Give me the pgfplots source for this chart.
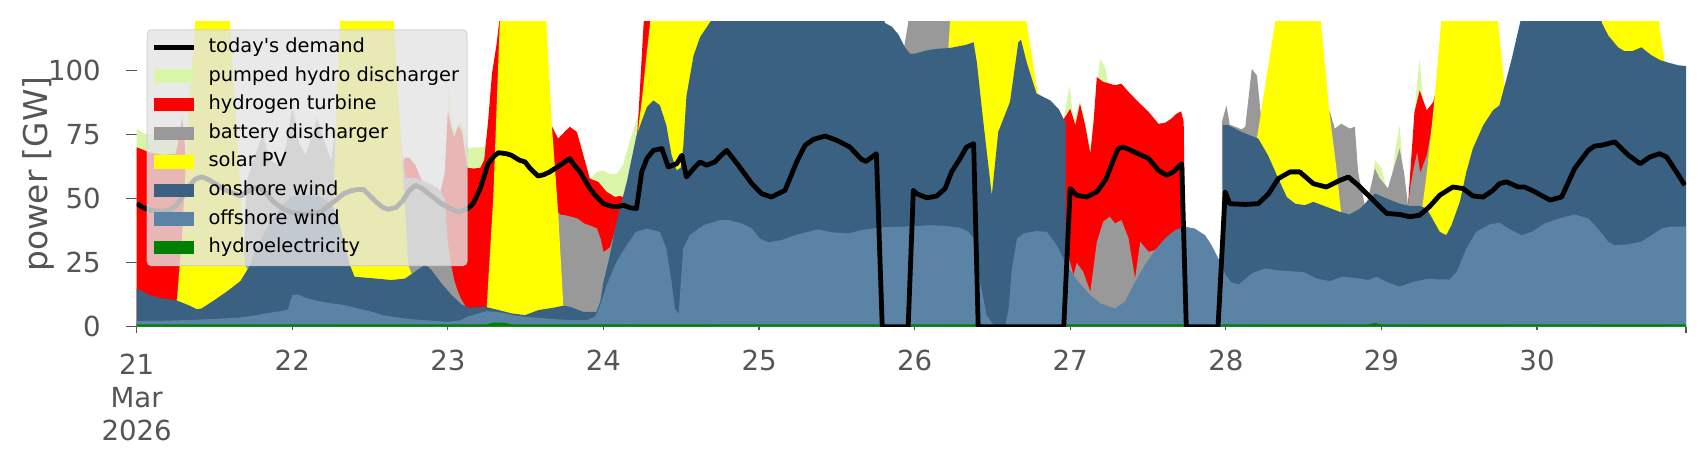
\documentclass[border=0pt]{standalone}
\usepackage{fontspec}
\setmainfont{DejaVu Sans}
\usepackage{pgfplots}
\pgfplotsset{compat=1.18}

\definecolor{phs}{HTML}{D9F5A8}
\definecolor{htwo}{HTML}{FF0000}
\definecolor{batt}{HTML}{999999}
\definecolor{solar}{HTML}{FFFF00}
\definecolor{onw}{HTML}{3B6182}
\definecolor{offw}{HTML}{5B83A5}
\definecolor{hydro}{HTML}{008000}
\definecolor{tickgray}{HTML}{555555}
\definecolor{legbg}{HTML}{E4E4E4}
\definecolor{legedge}{HTML}{CCCCCC}

% x = hours from 21 Mar 00:00, y = GW (top edge of each stacked band)
\pgfplotsset{
  patchleg/.style={legend image code/.code={\fill[##1, fill opacity=1, draw=none, sharp corners] (0pt,-3.35pt) rectangle (19.7pt,3.35pt);}},
  lineleg/.style={legend image code/.code={\path[draw=none, fill=none] (0pt,-3.35pt) rectangle (19.7pt,3.35pt); \fill[fill=black, fill opacity=1, draw=none, sharp corners] (0pt,-1.2pt) rectangle (19.7pt,1.2pt);}},
  band/.style={draw=none, fill=#1, forget plot},
}

\begin{document}
\begin{tikzpicture}
\path[use as bounding box] (-68.35pt,-66.65pt) rectangle (784.65pt,163.35pt);
\begin{axis}[
  at={(0pt,0pt)}, anchor=south west,
  scale only axis, width=774.7pt, height=152.5pt,
  xmin=0, xmax=239, ymin=0, ymax=119,
  axis line style={draw=none},
  tick pos=left, tick align=outside,
  major tick length=3.3pt,
  tick style={line width=0.8pt, color=tickgray},
  xtick={0,239},
  xticklabels={{21\\Mar\\2026},{}},
  extra x ticks={24,48,72,96,120,144,168,192,216},
  extra x tick labels={22,23,24,25,26,27,28,29,30},
  extra x tick style={major tick length=1.7pt, tick style={line width=0.6pt}},
  ytick=\empty,
  extra y ticks={0,25,50,75,100},
  extra y tick labels={0,25,50,75,100},
  extra y tick style={major tick length=5.3pt, tick style={line width=0.8pt}},
  tick label style={font=\fontsize{13.8}{16.6}\selectfont, text=tickgray},
  xticklabel style={align=center, inner sep=0pt, anchor=north, yshift=-10pt},
  yticklabel style={inner sep=0pt, anchor=east, xshift=-12.5pt},
  ylabel={power [GW]},
  every axis y label/.style={at={([xshift=-49.2pt]rel axis cs:0,0.5)}, rotate=90, anchor=center, font=\fontsize{16.4}{19}\selectfont, text=tickgray},
  legend cell align=left,
  legend style={
    at={(0.00645,0.9751)}, anchor=north west,
    font=\fontsize{9.7}{11.6}\selectfont,
    fill=legbg, fill opacity=0.8, draw=legedge, draw opacity=0.8, text opacity=1,
    rounded corners=2pt, line width=0.5pt,
    inner xsep=3.5pt, inner ysep=3.7pt,
    row sep=3.9pt, column sep=7pt,
    nodes={inner sep=0.5pt, text height=7.2pt, text depth=2.2pt, text=black},
  },
]
\addlegendimage{lineleg}
\addlegendentry{today\textquotesingle s demand}
\addlegendimage{patchleg, fill=phs}
\addlegendentry{pumped hydro discharger}
\addlegendimage{patchleg, fill=htwo}
\addlegendentry{hydrogen turbine}
\addlegendimage{patchleg, fill=batt}
\addlegendentry{battery discharger}
\addlegendimage{patchleg, fill=solar}
\addlegendentry{solar PV}
\addlegendimage{patchleg, fill=onw}
\addlegendentry{onshore wind}
\addlegendimage{patchleg, fill=offw}
\addlegendentry{offshore wind}
\addlegendimage{patchleg, fill=hydro}
\addlegendentry{hydroelectricity}

% pumped hydro discharger (top of stack)
\addplot[band=phs] coordinates {(0,77.3) (1,75.5) (2,75) (4,75.5) (6,76) (6.6,78) (7,82)} \closedcycle;
\addplot[band=phs] coordinates {(23.6,79) (24.2,88) (24.8,74)} \closedcycle;
\addplot[band=phs] coordinates {(47.6,62) (48.1,94) (48.6,80) (49.2,76) (49.8,80) (50.5,77) (51.2,69.5) (52,70) (53,70) (53.5,70) (53.9,72)} \closedcycle;
\addplot[band=phs] coordinates {(70,57.8) (71,60.4) (72,61) (73,59.5) (74,59.5) (75,63) (76,72) (77,80) (77.4,82.7) (77.6,86)} \closedcycle;
\addplot[band=phs] coordinates {(143,81) (143.9,94) (144.5,80) (145.5,88) (146.3,79.5) (147.1,69) (147.6,80) (148.6,104.5) (149.4,101) (149.9,94)} \closedcycle;
\addplot[band=phs] coordinates {(190.6,56) (191,65) (192,62) (192.8,54)} \closedcycle;
\addplot[band=phs] coordinates {(193.6,58) (194.2,70) (194.8,78.6) (195.3,62)} \closedcycle;
\addplot[band=phs] coordinates {(196.8,70) (197.3,90) (197.9,104.5) (198.4,88)} \closedcycle;

% hydrogen turbine
\addplot[band=htwo] coordinates {(0,70) (1,69) (2,68) (4,67) (6,67.5) (6.8,76) (7,82) (7.4,72) (7.6,64)} \closedcycle;
\addplot[band=htwo] coordinates {(41,62) (41.3,66) (42,66) (43,63) (43.8,58) (44.3,55)} \closedcycle;
\addplot[band=htwo] coordinates {(46.8,52) (47.5,60) (48,84) (48.5,78) (49,74) (49.6,78.6) (50.2,76) (51,62) (52,61.7) (53,62) (53.6,65) (54.2,80) (54.8,98.7) (55.5,110) (55.9,118.5) (56.2,130) (56.5,130)} \closedcycle;
\addplot[band=htwo] coordinates {(63.9,79) (65,73.4) (66,76) (66.8,78) (67.9,76) (68.9,66.9) (69.9,57.8) (71.2,56.5) (72.5,52.6) (73.8,50.6) (74.5,51) (75,50.6)} \closedcycle;
\addplot[band=htwo] coordinates {(77.2,75.4) (77.4,82.7) (78.2,118.5) (78.5,130) (79.5,130)} \closedcycle;
\addplot[band=htwo] coordinates {(143,81) (144,85) (144.8,78.6) (145.5,87) (146.3,78.6) (147.1,67.5) (147.6,80) (148.1,97.4) (149.1,95.5) (150.1,94.8) (150.9,94.2) (151.9,94.8) (153,91.6) (154.5,87.7) (156.1,83.8) (157.6,79.2) (158.6,79.5) (159.6,81.2) (160.4,83.1) (161.1,84) (161.5,80) (161.7,38.3)} \closedcycle;
\addplot[band=htwo] coordinates {(196.1,47.5) (197.1,83.8) (197.9,92.2) (199,84.4) (200,87.7) (200.9,97.4) (201.3,117)} \closedcycle;

% battery discharger
\addplot[band=batt] coordinates {(16.5,30) (17,57) (18,65) (19,72) (19.5,75) (20.5,65) (22,63) (23,70) (24,85.5) (25,72) (26,67) (27,74) (27.8,81.6) (29,72) (30,65) (30.8,80)} \closedcycle;
\addplot[band=batt] coordinates {(40.8,70) (41.5,58) (43,58) (45,56) (46.5,54) (47.5,50) (48,33) (48.5,24) (49,18) (49.5,14) (50,11) (50.8,7.5)} \closedcycle;
\addplot[band=batt] coordinates {(64.8,45) (65.5,43.5) (66,43.5) (67,42.9) (68,42.2) (69,40.3) (70,39.4) (71,38.3) (71.6,34) (72,29.2) (72.5,30) (73,31) (73.5,35) (73.8,38)} \closedcycle;
\addplot[band=batt] coordinates {(118.3,108) (119,118.5) (119.3,130) (125.4,130) (125.6,110)} \closedcycle;
\addplot[band=batt] coordinates {(143.3,30.5) (144,25) (144.5,20) (145,25) (146,21.4) (147.1,13.6) (148.1,33) (149.1,41) (150.1,42.9) (150.9,40.3) (151.9,41.6) (153,34.4) (154,18.8) (154.8,33.1) (156.1,29.2) (157.1,29.9) (157.5,31)} \closedcycle;
\addplot[band=batt] coordinates {(167.4,80) (168.1,86.4) (168.6,78.8) (169.5,78) (170.4,77) (171,78) (172,100.6) (172.8,98) (173.5,80) (173.8,75)} \closedcycle;
\addplot[band=batt] coordinates {(183.9,82) (184,84.4) (184.8,77.3) (185.8,79.2) (187.1,77.3) (187.9,78) (188.4,60.4) (188.9,54) (189.4,48)} \closedcycle;
\addplot[band=batt] coordinates {(189.8,49) (190.5,56) (191,61.7) (191.7,58) (193,54) (194.8,69.5) (195.5,60) (196.1,47.4) (196.5,55) (197,62) (197.5,68) (198,60) (199,66.9) (199.8,78)} \closedcycle;

% solar PV
\addplot[band=solar] coordinates {(6.2,10.3) (7,35) (8,85) (9,118) (9.5,130) (14,130) (14.4,118.5) (15,93.5) (16,53.5) (16.7,24) (17.2,22)} \closedcycle;
\addplot[band=solar] coordinates {(30.3,46) (31,100) (31.5,125) (39.5,125) (39.7,118.5) (40.5,84.1) (41.2,54.1) (41.9,24) (42.5,20)} \closedcycle;
\addplot[band=solar] coordinates {(54,7.8) (55,50) (56,118.5) (56.3,130) (62.8,130) (63.2,118.5) (64,80) (65,45) (65.8,8.5)} \closedcycle;
\addplot[band=solar] coordinates {(77.3,76) (78,90) (78.6,105) (79.2,118.5) (79.5,130) (89,130)} \closedcycle;
\addplot[band=solar] coordinates {(125.2,108.7) (125.6,125) (136.5,125) (137.3,118.5) (139,91)} \closedcycle;
\addplot[band=solar] coordinates {(172.8,73.5) (174,93) (175.6,118.5) (175.9,130) (182.4,130) (182.7,118.5) (184,83) (185,63) (185.8,44)} \closedcycle;
\addplot[band=solar] coordinates {(198.3,46.5) (199,60) (200,84) (201,112) (201.4,125) (209.7,125) (210,118.5) (211,94)} \closedcycle;
\addplot[band=solar] coordinates {(225,125) (226.5,130) (234.5,130) (234.8,118.5) (235.7,103.5)} \closedcycle;

% onshore wind
\addplot[band=onw] coordinates {(0,14.9) (2,12.3) (4,11) (6,10.4) (8,8.4) (9.3,6.8) (10,7.1) (12,10.4) (14,13.9) (16,17.8) (17.5,24) (18,28) (20,38) (22,46) (24,51) (26,51.5) (28,51) (30,48) (31,43) (32,33) (32.9,24) (33.6,19.5) (36.8,18.8) (39.3,18.2) (41.4,18.8) (42.9,21.4) (44.5,24.3) (45.5,22) (47,16.9) (48.6,12.3) (50.1,8.7) (51.2,7.4) (53.7,7.8) (55.8,6.5) (57.8,5.2) (59.9,4.5) (62,6.5) (64.3,7.4) (65.8,8.2) (66.8,7.8) (68.9,5.8) (70.9,5.8) (71.5,9.7) (72,17.5) (73,27.9) (74,40.9) (75.6,56.5) (77.1,74.7) (78.7,85.7) (79.7,88.3) (80.7,86.4) (81.7,78.6) (82.5,67) (83.3,61) (83.9,62) (84.3,70) (84.8,90) (85.9,105.8) (86.9,113) (88.5,119) (89,125) (115,125) (115.4,118.5) (116.5,117) (117.5,114) (118.5,109) (119.3,106.5) (120,106.5) (121.9,107.8) (123.4,108.4) (125.2,108.7) (126,109) (128,110) (129.1,111) (129.6,103) (130.5,82) (131.9,51.3) (132.9,76) (134.7,87.7) (136,111) (136.4,112) (137.3,103) (138.8,91) (140.9,88.3) (142.2,85) (143,81) (143.3,80)} \closedcycle;
\addplot[band=onw] coordinates {(167.55,78.6) (168.4,78.6) (170.4,76) (173,73.4) (174.5,66.9) (176.1,57.8) (177.4,50.6) (178.7,48) (180.2,47.4) (181.5,48.7) (183.5,46.8) (185.6,44.8) (187.1,43.8) (188.7,46.1) (191,52) (192.8,50) (194.8,48) (196.4,47.1) (198,47.1) (199,46) (200,41.5) (201,37) (202,35.7) (202.8,39.6) (204.1,48.7) (205.1,60.4) (206.1,69.5) (207.7,78.6) (209.2,84.4) (210.2,86.4) (211,94) (212.1,104.5) (213.4,118.8) (214,125) (225.5,125) (226,118.5) (227,113.6) (228.5,109) (229.5,107.5) (230.7,107.5) (232.1,109) (233.6,106) (235,104) (236.3,103) (237.8,102) (239,101.7)} \closedcycle;

% offshore wind
\addplot[band=offw] coordinates {(0,2.2) (4,2.3) (8,2.6) (12,3.0) (16,3.6) (18,4.3) (20,5.2) (22,6.0) (23.3,6.6) (24,12.4) (25,12.5) (26,11.3) (28,10) (30,9.1) (32,8.5) (34,7.2) (36,6) (38,4.5) (40,3.7) (42,3) (44,2.6) (48,1.9) (50,2.5) (51,3.9) (52.5,5) (54,6.1) (55.5,5.8) (57,5.2) (58,4.5) (60,3.8) (62,3.5) (64,3) (67,2.6) (69.5,2.6) (70.7,3.9) (71.5,8.4) (72.5,16.2) (74,25.3) (75.6,31.8) (77,37) (78.7,38.3) (80.7,37) (81.7,30.5) (82.5,17.5) (83,7.1) (83.6,5) (84.3,30.5) (85.3,35.7) (87.4,39.6) (90,41.6) (91.3,41.6) (93.3,40.3) (94.9,38.3) (96.1,34.4) (97.4,32.9) (99.5,33.8) (101.5,35.7) (103.6,37) (105.1,38) (107.2,36.8) (109.8,36.4) (111.8,37.7) (114.9,38.8) (118,39) (122.4,39.6) (124.4,39.4) (127,38.6) (128.3,37) (129.1,34.4) (129.6,26) (130.1,17.5) (131.1,4.5) (132.2,0.6) (134,0.6) (134.5,7.1) (135,22.7) (135.8,34.4) (136.8,36.4) (138.8,37.3) (140.4,37) (141.9,31.8) (143.5,24) (145,18.2) (147.1,12.3) (148.6,9.1) (150.9,7.1) (152.4,9.7) (154,17.5) (155.5,24) (157.1,29.9) (158.6,34.4) (160.2,37.7) (161.7,39) (163.2,38.3) (164.8,35.7) (165.8,31.8) (167.1,25.3) (168,20) (168.9,17.2) (170,16.5) (172,20.8) (174,22.7) (176,22) (180,21.3) (182,18.8) (184,17.8) (186,19.5) (188,19) (190,18.2) (191.2,19.5) (192.8,17.5) (194.8,15.6) (196.9,17.5) (199,18.6) (202.5,18.4) (203.6,21.4) (205.1,30.5) (206.6,37) (208.7,39.9) (210.2,40.6) (211.6,38.3) (213.6,35.7) (215.2,37) (217.2,40.3) (219.8,42.5) (221.8,43.8) (223.9,42.2) (225.4,38.3) (227,33.1) (228,31.8) (230,32.1) (232,33.1) (233.7,35.7) (235.2,38.3) (236.7,39.1) (239,39)} \closedcycle;

% hydroelectricity
\addplot[band=hydro] coordinates {(0,0.9) (54,0.9) (55,1.6) (56.5,1.6) (58,0.9) (114.5,0.9) (115,0) (119,0) (119.5,0.9) (129.5,0.9) (130,0) (143,0) (143.5,0.9) (161.5,0.9) (162,0) (167,0) (167.5,0.9) (190,0.9) (191,1.4) (192,0.9) (239,0.9)} \closedcycle;

% today's demand
\addplot[black, line width=2.4pt, line join=round, forget plot] coordinates {(0,48) (1,46.5) (2,45.5) (3.5,45) (5,45.5) (6,47) (7,50.5) (8,54.5) (9,57.5) (10,58.5) (11,57.5) (12,56) (13.5,53.5) (15,52) (16,51) (17,52.5) (18,54) (19,54) (20,52) (21,49) (22,47) (23,45.5) (24,44.5) (25.5,44) (27,44) (28.5,45) (29.5,47) (31,50) (32,52) (33,53) (34,53.5) (35,53.5) (36,51) (37,48.5) (38,46.5) (38.8,45.8) (40,46.5) (41,49) (42,53) (43,55.2) (44,54) (45,51.9) (46,50) (47,48) (48.5,46) (49.6,44.8) (50.5,45.5) (51.2,46.4) (51.9,48) (53,53.9) (54.2,63.6) (55.1,66.5) (55.8,67.9) (57,67.5) (57.8,66.9) (59,65) (59.9,64.3) (60.7,61.7) (61.9,58.8) (62.8,59.3) (63.7,60.4) (65,62.5) (66.8,65.6) (67.5,63) (68.4,60.4) (69.9,53.9) (71,50.5) (72,48) (73.5,46.8) (74.5,47) (75.1,47.4) (76.1,46.4) (77.1,46.1) (77.9,60.4) (78.7,65.6) (79.7,68.8) (81,69.5) (82,62.3) (83.3,63.6) (84.1,66.9) (84.8,58.4) (85.9,61.7) (86.9,64.3) (87.9,63) (89.2,64.3) (90,66.5) (91,68.8) (92.8,63) (94.9,55.8) (96.4,51.9) (97.9,50.6) (100,53.2) (101.8,64.3) (103.1,70.8) (104.4,73.1) (106.2,74.4) (108,72.7) (110,70.1) (111.8,65.3) (112.5,64.5) (114.1,67.5) (115,0) (119,0) (119.8,53.2) (120.3,51.9) (121.9,50.3) (123.4,51) (124.7,53.9) (125.7,60.4) (127,65.6) (128,70.1) (129.1,71.4) (129.8,0) (143,0) (144,53.9) (145,51.3) (146.5,50.6) (148.1,52.6) (149.5,57.5) (150.5,64) (151.4,69.5) (152.2,70.1) (154.5,67.5) (156.1,65.6) (157.6,61) (158.9,59.1) (159.9,60.4) (161.2,63.6) (161.9,0) (166.8,0) (167.9,52.6) (168.6,48) (171,47.7) (173,48) (174.6,51.9) (176.1,57.8) (177.9,60.4) (179.4,60.4) (181.5,55.8) (183.5,54.5) (185.6,57.1) (186.9,58.4) (188.4,55.2) (190.7,49.4) (192.8,44.2) (194.8,43.8) (196.4,42.9) (197.9,43.5) (199.4,46.8) (201,51.3) (203,54.5) (204.6,53.9) (206.1,51) (207.7,50.6) (209.2,53.2) (210.2,55.8) (211.3,56.5) (213.1,54.5) (214.1,54.5) (215.7,52.6) (218,49.4) (219.8,50.6) (221.8,61.7) (223.9,68.8) (224.9,70.5) (226,70.8) (228,72.1) (230.1,66.9) (231.9,63.6) (233.4,66.2) (234.9,67.5) (236,66.2) (237.5,60.4) (238.8,55.2)};
\end{axis}
\end{tikzpicture}
\end{document}
